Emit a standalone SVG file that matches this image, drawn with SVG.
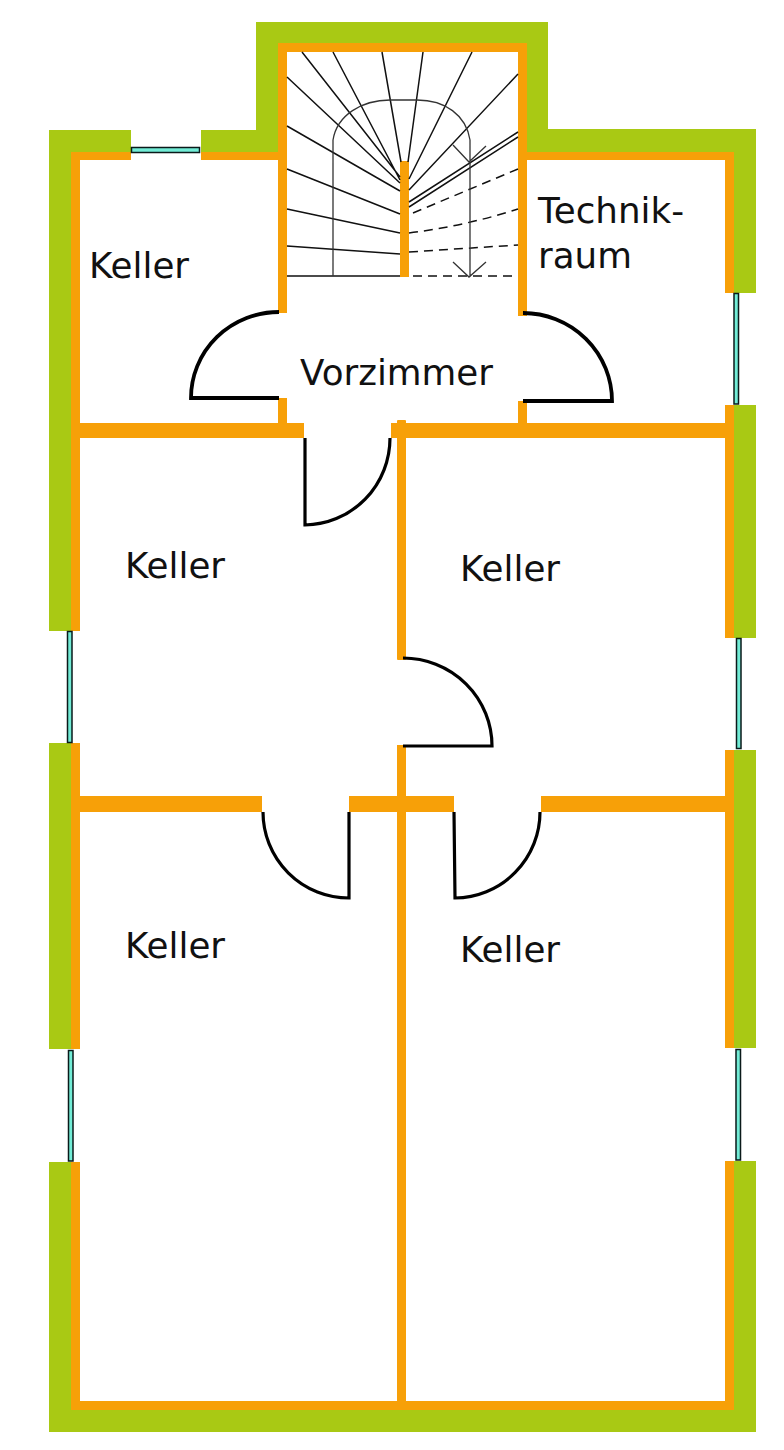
<svg xmlns="http://www.w3.org/2000/svg" width="784" height="1450" viewBox="0 0 784 1450">
<style>
.g{fill:#a9c914}
.o{fill:#f7a008}
.w{fill:#72ecd6;stroke:#0a1a1a;stroke-width:1.5}
.d{fill:none;stroke:#000;stroke-width:3.2}
.d2{fill:none;stroke:#000;stroke-width:3.8}
.s{fill:none;stroke:#111;stroke-width:1.5}
.h{fill:none;stroke:#111;stroke-width:1.5;stroke-dasharray:9 6}
.a{fill:none;stroke:#333;stroke-width:1.3}
text{font-family:"DejaVu Sans",Verdana,sans-serif;font-size:35.7px;fill:#111}
</style>
<rect width="784" height="1450" fill="#fff"/>
<g id="outer-walls">
<rect class="g" x="256" y="22" width="292" height="130"/>
<rect class="g" x="49" y="130" width="82" height="30"/>
<rect class="g" x="201" y="130" width="80" height="30"/>
<rect class="g" x="520" y="129" width="236" height="30"/>
<rect class="g" x="49" y="130" width="25" height="501"/>
<rect class="g" x="49" y="743" width="25" height="306"/>
<rect class="g" x="49" y="1162" width="25" height="270"/>
<rect class="g" x="730" y="129" width="26" height="164"/>
<rect class="g" x="730" y="405" width="26" height="233"/>
<rect class="g" x="730" y="750" width="26" height="298"/>
<rect class="g" x="730" y="1161" width="26" height="271"/>
<rect class="g" x="49" y="1405" width="707" height="27"/>
<rect x="287" y="52" width="231" height="120" fill="#fff"/>
</g>
<g id="inner-walls">
<rect class="o" x="71" y="152" width="60" height="8"/>
<rect class="o" x="201" y="152" width="80" height="8"/>
<rect class="o" x="524" y="152" width="210" height="8"/>
<rect class="o" x="71" y="152" width="9" height="479"/>
<rect class="o" x="71" y="743" width="9" height="306"/>
<rect class="o" x="71" y="1162" width="9" height="248"/>
<rect class="o" x="725" y="152" width="9" height="141"/>
<rect class="o" x="725" y="405" width="9" height="233"/>
<rect class="o" x="725" y="750" width="9" height="298"/>
<rect class="o" x="725" y="1161" width="9" height="249"/>
<rect class="o" x="71" y="1401" width="663" height="9"/>
<rect class="o" x="278" y="43" width="249" height="9"/>
<rect class="o" x="278" y="43" width="9" height="270"/>
<rect class="o" x="278" y="398" width="9" height="30"/>
<rect class="o" x="518" y="43" width="9" height="273"/>
<rect class="o" x="518" y="401" width="9" height="27"/>
<rect class="o" x="400" y="161" width="9" height="116"/>
<rect class="o" x="80" y="423" width="224" height="15"/>
<rect class="o" x="391" y="423" width="334" height="15"/>
<rect class="o" x="397" y="420" width="9" height="240" rx="1"/>
<rect class="o" x="397" y="745" width="9" height="656"/>
<rect class="o" x="80" y="796" width="182" height="16"/>
<rect class="o" x="349" y="796" width="105" height="16"/>
<rect class="o" x="541" y="796" width="184" height="16"/>
</g>
<g id="windows">
<rect class="w" x="131.5" y="147.5" width="68" height="5"/>
<rect class="w" x="734" y="293.5" width="4.500" height="110.500"/>
<rect class="w" x="67.500" y="631.500" width="4.500" height="111"/>
<rect class="w" x="736.500" y="638.500" width="4.500" height="110"/>
<rect class="w" x="68.500" y="1050.500" width="4.500" height="110.500"/>
<rect class="w" x="736" y="1049.500" width="4.500" height="110.500"/>
</g>
<g id="stairs">
<path class="s" d="M302 52L400 177M333 52L400 180M382 52L401 162M423 52L408 162M472 52L409 179M518 74L409 190M518 132L409 202M518 137L409 207M287 77L400 183M287 126L400 191M287 169L400 214M287 209L400 233M287 246L400 254M287 276H400"/>
<path class="h" d="M413 213L518 169M409 233Q465 226 518 209M409 252L518 245M413 276H518"/>
<path class="a" d="M333 276V140C337 115 362 100 390 100H417C445 100 466 115 470 140V277M453 262L469 277L486 262M453 145L469 162L486 146"/>
</g>
<g id="doors">
<path class="d2" d="M279 312A88 86 0 0 0 191 398H279"/>
<path class="d2" d="M523 313A89 88 0 0 1 612 401H523"/>
<path class="d" d="M305 438V525A86 87 0 0 0 390 438"/>
<path class="d" d="M403 658A89 88 0 0 1 492 746H403"/>
<path class="d" d="M263 812A86 86 0 0 0 349 898V812"/>
<path class="d" d="M454 812L455 898A86 86 0 0 0 540 812"/>
</g>
<g id="labels">
<text x="89" y="278">Keller</text>
<text x="125" y="578">Keller</text>
<text x="460" y="581">Keller</text>
<text x="125" y="958">Keller</text>
<text x="460" y="962">Keller</text>
<text x="538" y="223">Technik-</text>
<text x="538" y="268">raum</text>
<text x="300" y="385">Vorzimmer</text>
</g>
</svg>
